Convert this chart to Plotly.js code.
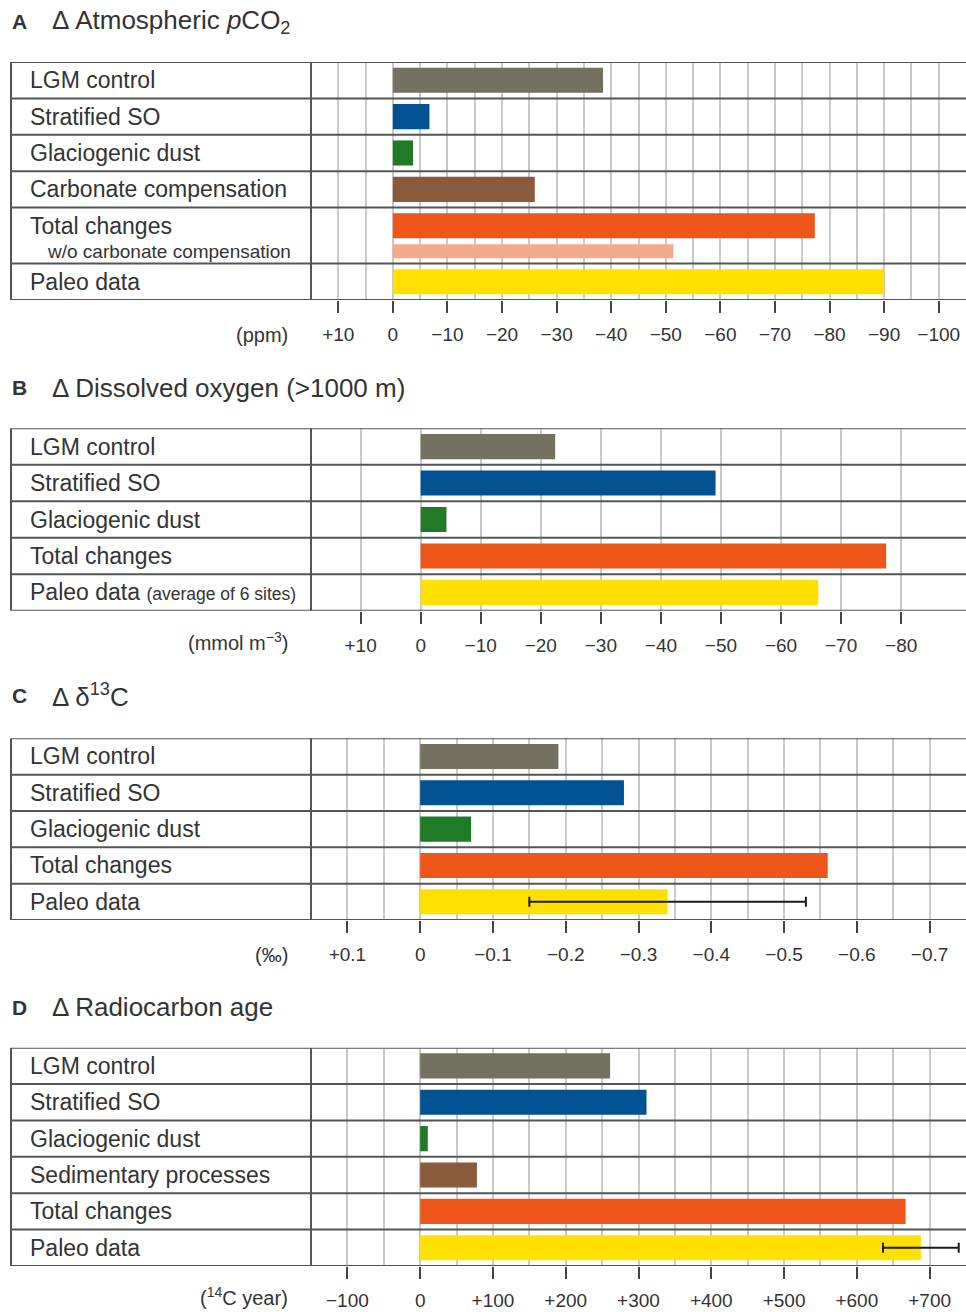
<!DOCTYPE html>
<html>
<head>
<meta charset="utf-8">
<script src="https://cdn.plot.ly/plotly-3.0.1.min.js"></script>
<style>
  html, body { margin: 0; padding: 0; background: #fff; }
  #chart { width: 966px; height: 1312px; }
</style>
</head>
<body>
<div id="chart"></div>
<script>
// ---- Data ----------------------------------------------------------------
// A: change in atmospheric pCO2 (ppm)
const pco2Labels = ['LGM control', 'Stratified SO', 'Glaciogenic dust', 'Carbonate compensation', 'Total changes', 'Paleo data'];
const pco2Values = [-38.5, -6.7, -3.7, -26.0, -77.3, -90.0];
const pco2TotalNoCarbonate = -51.4;
const pco2Ticks = [10, 0, -10, -20, -30, -40, -50, -60, -70, -80, -90, -100];

// B: change in dissolved oxygen below 1000 m (mmol m-3)
const oxyLabels = ['LGM control', 'Stratified SO', 'Glaciogenic dust', 'Total changes', 'Paleo data'];
const oxyValues = [-22.4, -49.1, -4.3, -77.5, -66.2];
const oxyTicks = [10, 0, -10, -20, -30, -40, -50, -60, -70, -80];

// C: change in d13C (permil)
const d13cLabels = ['LGM control', 'Stratified SO', 'Glaciogenic dust', 'Total changes', 'Paleo data'];
const d13cValues = [-0.19, -0.28, -0.07, -0.56, -0.34];
const d13cPaleoError = 0.19;
const d13cTicks = [0.1, 0, -0.1, -0.2, -0.3, -0.4, -0.5, -0.6, -0.7];

// D: change in radiocarbon age (14C years)
const c14Labels = ['LGM control', 'Stratified SO', 'Glaciogenic dust', 'Sedimentary processes', 'Total changes', 'Paleo data'];
const c14Values = [261, 311, 10.5, 78, 667, 688];
const c14PaleoError = 52;
const c14Ticks = [-100, 0, 100, 200, 300, 400, 500, 600, 700];

// ---- Styling ---------------------------------------------------------------
const W = 966, H = 1312;
const px = v => v / W;
const py = v => 1 - v / H;
const FONT = 'Liberation Sans, Arial, Helvetica, sans-serif';
const TEXT = '#333333';
const RULE = '#555555';
const GRID = '#c9c9c9';

const barColors = {
  'LGM control': '#757161',
  'Stratified SO': '#005293',
  'Glaciogenic dust': '#207a26',
  'Carbonate compensation': '#8a5a3c',
  'Sedimentary processes': '#8a5a3c',
  'Total changes': '#ee5519',
  'Paleo data': '#ffe000'
};
const lightOrange = '#f4a98b';

function tickLabel(v) {
  if (v > 0) return '+' + v;
  if (v < 0) return '\u2212' + Math.abs(v);
  return '0';
}

function gridVals(range, step) {
  const lo = Math.min(range[0], range[1]), hi = Math.max(range[0], range[1]);
  const out = [];
  for (let k = Math.ceil(lo / step - 1e-9); k * step <= hi + 1e-9; k++) out.push(+(k * step).toFixed(6));
  return out;
}

const data = [];
const layout = {
  width: W, height: H,
  margin: { l: 0, r: 0, t: 0, b: 0 },
  paper_bgcolor: '#fff', plot_bgcolor: 'rgba(0,0,0,0)',
  showlegend: false,
  font: { family: FONT, color: TEXT },
  shapes: [], annotations: []
};

function panel(n, cfg) {
  const xa = 'x' + (n === 1 ? '' : n), ya = 'y' + (n === 1 ? '' : n);
  const xkey = 'xaxis' + (n === 1 ? '' : n), ykey = 'yaxis' + (n === 1 ? '' : n);

  // row boundaries in row units (one unit per standard row)
  const bounds = [0];
  cfg.labels.forEach((_, i) => bounds.push(bounds[i] + (cfg.rowHeights ? cfg.rowHeights[i] : 1)));
  const total = bounds[bounds.length - 1];
  const centers = cfg.labels.map((_, i) => bounds[i] + 0.5);

  layout[xkey] = {
    domain: [px(311), 1], anchor: ya, range: cfg.range, fixedrange: true,
    tickmode: 'array', tickvals: cfg.ticks, ticktext: cfg.ticks.map(tickLabel),
    ticks: 'outside', ticklen: 12, tickwidth: 2, tickcolor: '#444',
    tickfont: { size: 19, color: TEXT, family: FONT },
    ticklabelstandoff: 5,
    showgrid: true, gridcolor: GRID, gridwidth: 2,
    minor: { tickmode: 'array', tickvals: cfg.grid || gridVals(cfg.range, cfg.gridStep), showgrid: true, gridcolor: GRID, gridwidth: 2, ticks: '' },
    zeroline: false, showline: false
  };
  layout[ykey] = {
    domain: [py(cfg.bottom), py(cfg.top)], anchor: xa, range: [total, 0], fixedrange: true,
    showgrid: false, zeroline: false, showticklabels: false, ticks: '', showline: false
  };

  data.push({
    type: 'bar', orientation: 'h', xaxis: xa, yaxis: ya,
    x: cfg.values, y: centers, width: cfg.labels.map(() => 0.69),
    marker: { color: cfg.labels.map(l => barColors[l]), line: { width: 0 } },
    hoverinfo: 'skip'
  });

  if (cfg.extra) cfg.extra(xa, ya, bounds);

  if (cfg.error !== undefined) {
    const last = cfg.labels.length - 1;
    data.push({
      type: 'scatter', mode: 'markers', xaxis: xa, yaxis: ya,
      x: [cfg.values[last]], y: [centers[last]],
      marker: { size: 1, opacity: 0 },
      error_x: { type: 'data', symmetric: true, array: [cfg.error], color: '#1a1a1a', thickness: 2, width: 5 },
      hoverinfo: 'skip'
    });
  }

  // table rules
  bounds.forEach(b => layout.shapes.push({
    type: 'line', xref: 'paper', yref: ya, x0: px(11), x1: 1, y0: b, y1: b,
    line: { color: RULE, width: 2 }
  }));
  [11, 311].forEach(xp => layout.shapes.push({
    type: 'line', xref: 'paper', yref: ya, x0: px(xp), x1: px(xp), y0: 0, y1: total,
    line: { color: RULE, width: 2 }
  }));

  // row labels
  cfg.labels.forEach((lab, i) => layout.annotations.push({
    xref: 'paper', yref: ya, x: px(28), y: centers[i], xanchor: 'left', yanchor: 'middle',
    text: (cfg.labelText && cfg.labelText[i]) || lab, showarrow: false,
    font: { size: 23, color: TEXT, family: FONT }
  }));

  // panel letter and title
  layout.annotations.push({
    xref: 'paper', yref: 'paper', x: px(10), y: py(cfg.titleY), xanchor: 'left', yanchor: 'middle',
    text: '<b>' + cfg.letter + '</b>', showarrow: false, font: { size: 21, color: TEXT, family: FONT }
  });
  layout.annotations.push({
    xref: 'paper', yref: 'paper', x: px(50), y: py(cfg.titleY), xanchor: 'left', yanchor: 'middle',
    text: cfg.title, showarrow: false, font: { size: 26, color: TEXT, family: FONT }
  });

  // axis unit
  layout.annotations.push({
    xref: 'paper', yref: 'paper', x: px(290), y: py(cfg.bottom + (cfg.unitDy || 35)), xanchor: 'right', yanchor: 'middle',
    text: cfg.unit, showarrow: false, font: { size: 20, color: TEXT, family: FONT }
  });
}

panel(1, {
  letter: 'A', title: '\u0394 Atmospheric <i>p</i>CO<sub>2</sub>', titleY: 22,
  top: 62, bottom: 300, rowHeights: [1, 1, 1, 1, 1.54, 1],
  labels: pco2Labels, values: pco2Values,
  range: [15, -105], ticks: pco2Ticks, gridStep: 5, unit: '(ppm)',
  extra: (xa, ya, bounds) => {
    const row = pco2Labels.indexOf('Total changes');
    data.push({
      type: 'bar', orientation: 'h', xaxis: xa, yaxis: ya,
      x: [pco2TotalNoCarbonate], y: [bounds[row] + 1.2], width: [0.385],
      marker: { color: lightOrange, line: { width: 0 } }, hoverinfo: 'skip'
    });
    layout.annotations.push({
      xref: 'paper', yref: ya, x: px(45), y: bounds[row] + 1.2, xanchor: 'left', yanchor: 'middle',
      text: 'w/o carbonate compensation', showarrow: false,
      font: { size: 19, color: TEXT, family: FONT }
    });
  }
});

panel(2, {
  letter: 'B', title: '\u0394 Dissolved oxygen (&gt;1000 m)', titleY: 388,
  top: 428.3, bottom: 610.7,
  labels: oxyLabels, values: oxyValues,
  labelText: [null, null, null, null, 'Paleo data <span style="font-size:17.5px">(average of 6 sites)</span>'],
  range: [18.26, -90.8], ticks: oxyTicks, grid: oxyTicks, unit: '(mmol m<sup>\u22123</sup>)', unitDy: 31
});

panel(3, {
  letter: 'C', title: '\u0394 \u03b4<sup>13</sup>C', titleY: 695,
  top: 738.3, bottom: 920,
  labels: d13cLabels, values: d13cValues, error: d13cPaleoError,
  range: [0.15, -0.75], ticks: d13cTicks, gridStep: 0.05, unit: '(\u2030)'
});

panel(4, {
  letter: 'D', title: '\u0394 Radiocarbon age', titleY: 1007,
  top: 1047.7, bottom: 1266,
  labels: c14Labels, values: c14Values, error: c14PaleoError,
  range: [-150, 750], ticks: c14Ticks, gridStep: 50, unit: '(<sup>14</sup>C year)', unitDy: 30
});

Plotly.newPlot('chart', data, layout, { staticPlot: true, displayModeBar: false });
</script>
</body>
</html>
